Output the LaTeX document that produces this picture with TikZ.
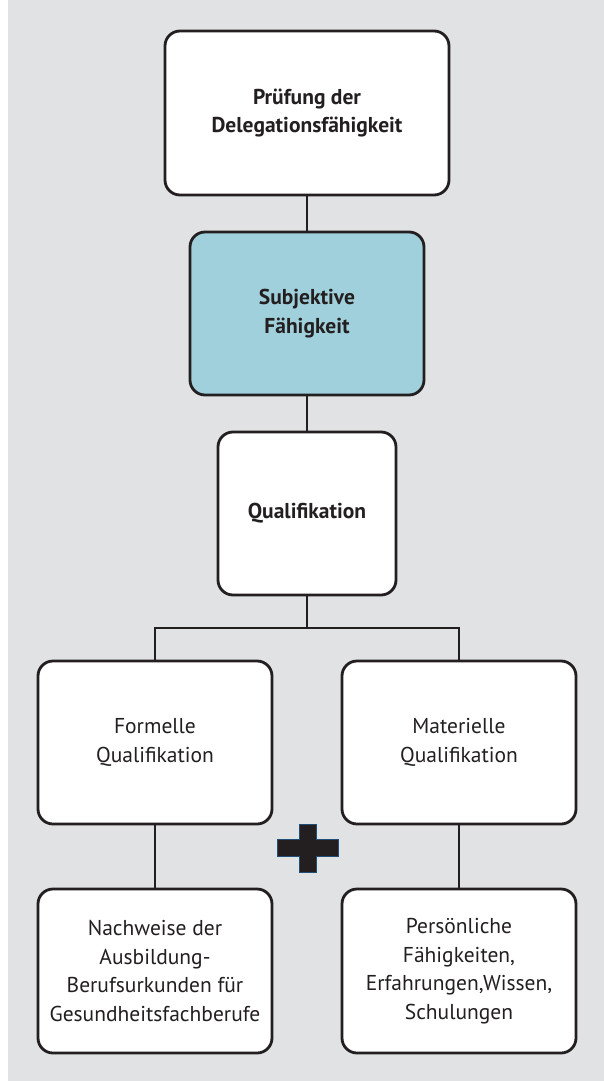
\documentclass[tikz,border=0pt]{standalone}
\usepackage{fontspec}
\setmainfont{PT Sans}
\definecolor{bggray}{HTML}{E1E2E4}
\definecolor{boxblue}{HTML}{A0D0DC}
\definecolor{ink}{HTML}{231F20}
\definecolor{plusedge}{HTML}{1F4E79}
\tikzset{
  box/.style={draw=ink, line width=2.8pt, rounded corners=15pt, fill=white,
    align=center, text=ink, inner sep=0pt,
    font=\fontsize{21.5}{28.5}\selectfont},
  boldbox/.style={box, font=\fontsize{21.5}{28.5}\selectfont\bfseries},
  conn/.style={draw=ink, line width=2.4pt},
}
\begin{document}
\begin{tikzpicture}[x=1pt,y=-1pt]
\useasboundingbox (0,0) rectangle (604,1081);
\fill[white] (0,0) rectangle (604,1081);
\fill[bggray] (8,0) rectangle (604,1081);
\node[boldbox, minimum width=284pt, minimum height=164pt] (top) at (307,113) {Prüfung der\\Delegationsfähigkeit};
\node[boldbox, fill=boxblue, minimum width=234pt, minimum height=163pt] (subj) at (307,313.5) {Subjektive\\Fähigkeit};
\node[boldbox, minimum width=178pt, minimum height=163pt] (qual) at (307,513.5) {Qualifikation};
\node[box, minimum width=234pt, minimum height=163pt] (forml) at (155,742.5) {Formelle\\Qualifikation};
\node[box, minimum width=234pt, minimum height=163pt] (matl) at (459,742.5) {Materielle\\Qualifikation};
\node[box, minimum width=234pt, minimum height=164pt] (nach) at (155,971) {Nachweise der\\Ausbildung-\\Berufsurkunden für\\Gesundheitsfachberufe};
\node[box, minimum width=234pt, minimum height=164pt] (pers) at (459,971) {Persönliche\\Fähigkeiten,\\Erfahrungen,Wissen,\\Schulungen};
\coordinate (j) at (307,628);
\draw[conn] (top.south) -- (subj.north);
\draw[conn] (subj.south) -- (qual.north);
\draw[conn] (qual.south) -- (j);
\draw[conn] (forml.north) |- (j) -| (matl.north);
\draw[conn] (forml.south) -- (nach.north);
\draw[conn] (matl.south) -- (pers.north);
\draw[fill=ink, draw=plusedge, line width=1pt]
  (299,824) -- (316,824) -- (316,839.5) -- (338,839.5) -- (338,856.5) -- (316,856.5)
  -- (316,872) -- (299,872) -- (299,856.5) -- (277,856.5) -- (277,839.5) -- (299,839.5) -- cycle;
\end{tikzpicture}
\end{document}
